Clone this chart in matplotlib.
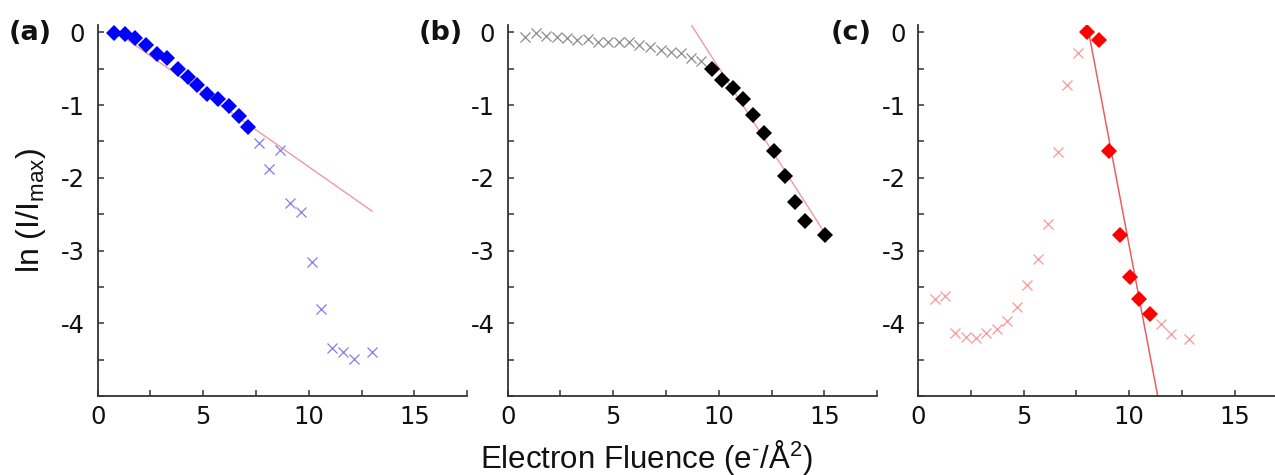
import matplotlib
matplotlib.use("Agg")
import matplotlib.pyplot as plt
from matplotlib.ticker import MultipleLocator

# ---------------- data ----------------
# Panel (a)
a_fit_x = [0.79, 1.29, 1.77, 2.27, 2.80, 3.27, 3.79, 4.27, 4.72, 5.20, 5.69, 6.21, 6.68, 7.14]
a_fit_y = [-0.01, -0.02, -0.08, -0.17, -0.30, -0.35, -0.50, -0.62, -0.72, -0.85, -0.92, -1.02, -1.15, -1.30]
a_rest_x = [7.65, 8.09, 8.64, 9.12, 9.64, 10.14, 10.58, 11.09, 11.64, 12.12, 12.99]
a_rest_y = [-1.52, -1.88, -1.62, -2.35, -2.47, -3.16, -3.80, -4.34, -4.40, -4.49, -4.40]
a_line_x = [0.8, 13.0]
a_line_y = [0.02, -2.46]

# Panel (b)
b_rest_x = [0.82, 1.34, 1.82, 2.32, 2.80, 3.30, 3.79, 4.30, 4.77, 5.26, 5.75, 6.24, 6.75, 7.25, 7.73, 8.20, 8.69, 9.16]
b_rest_y = [-0.07, -0.01, -0.05, -0.07, -0.08, -0.11, -0.09, -0.14, -0.13, -0.13, -0.14, -0.17, -0.20, -0.24, -0.27, -0.29, -0.35, -0.40]
b_fit_x = [9.67, 10.17, 10.65, 11.14, 11.61, 12.12, 12.62, 13.14, 13.62, 14.09, 15.04]
b_fit_y = [-0.51, -0.66, -0.77, -0.92, -1.14, -1.38, -1.63, -1.98, -2.33, -2.59, -2.78]
b_line_x = [8.72, 15.04]
b_line_y = [0.09, -2.77]

# Panel (c)
c_fit_x = [8.00, 8.55, 9.05, 9.57, 10.03, 10.49, 11.01]
c_fit_y = [0.0, -0.10, -1.63, -2.79, -3.37, -3.67, -3.87]
c_rest_x = [0.79, 1.30, 1.77, 2.25, 2.74, 3.22, 3.72, 4.20, 4.67, 5.15, 5.66, 6.15, 6.62, 7.08, 7.58, 11.49, 11.97, 12.84]
c_rest_y = [-3.66, -3.62, -4.14, -4.19, -4.20, -4.14, -4.08, -3.97, -3.77, -3.48, -3.11, -2.64, -1.64, -0.73, -0.29, -4.01, -4.15, -4.22]
c_line_x = [8.13, 11.45]
c_line_y = [-0.07, -5.15]

panel_labels = ["(a)", "(b)", "(c)"]
y_ticks = [0, -1, -2, -3, -4]
x_ticks = [0, 5, 10, 15]

# ---------------- figure ----------------
fig = plt.figure(figsize=(12.75, 4.75), dpi=100)
W, H = 1275.0, 475.0
ax_w = 369.5 / W
ax_b = 1 - 396.0 / H
ax_h = (396.0 - 25.0) / H
lefts = [97.7 / W, 507.7 / W, 918.0 / W]

panels = [
    dict(fx=a_fit_x, fy=a_fit_y, rx=a_rest_x, ry=a_rest_y, lx=a_line_x, ly=a_line_y,
         fcol="#0000ff", rcol="#7f7ff0", lcol="#f09a9a", lw=1.0),
    dict(fx=b_fit_x, fy=b_fit_y, rx=b_rest_x, ry=b_rest_y, lx=b_line_x, ly=b_line_y,
         fcol="#000000", rcol="#8c8c8c", lcol="#f09a9a", lw=1.0),
    dict(fx=c_fit_x, fy=c_fit_y, rx=c_rest_x, ry=c_rest_y, lx=c_line_x, ly=c_line_y,
         fcol="#ff0000", rcol="#f49a9a", lcol="#e86060", lw=1.1),
]

spine_col = "#333333"
axes = []
for i, p in enumerate(panels):
    ax = fig.add_axes([lefts[i], ax_b, ax_w, ax_h])
    axes.append(ax)
    ax.plot(p["lx"], p["ly"], color=p["lcol"], lw=p["lw"], zorder=1)
    ax.plot(p["rx"], p["ry"], ls="none", marker="x", ms=6.5, mew=0.9,
            color=p["rcol"], zorder=2)
    ax.plot(p["fx"], p["fy"], ls="none", marker="D", ms=7.8, mew=0,
            color=p["fcol"], zorder=3)
    ax.set_xlim(0, 17.5)
    ax.set_ylim(-5, 0.1)
    ax.set_xticks(x_ticks)
    ax.set_yticks(y_ticks)
    ax.set_yticklabels([str(v) for v in y_ticks])
    ax.xaxis.set_minor_locator(MultipleLocator(2.5))
    ax.yaxis.set_minor_locator(MultipleLocator(0.5))
    for s in ["top", "right"]:
        ax.spines[s].set_visible(False)
    for s in ["left", "bottom"]:
        ax.spines[s].set_color(spine_col)
        ax.spines[s].set_linewidth(1.3)
    ax.tick_params(which="both", direction="in", length=4, width=1.1,
                   color=spine_col, labelsize=17.5, labelcolor="#111111")
    ax.tick_params(axis="y", which="both", pad=9)
    ax.tick_params(axis="x", which="both", pad=6.5)
    ax.text(-0.182, 0.978, panel_labels[i], transform=ax.transAxes,
            fontsize=19.5, fontweight="bold", ha="center", va="center",
            color="#111111")

fig.text(31 / W, 1 - 210 / H, r"ln (I/I$_{\mathregular{max}}$)", family="Liberation Sans",
         fontsize=23, rotation=90, ha="center", va="center", color="#111111")
fig.text(646 / W, 1 - 468 / H, "Electron Fluence (e$^{\\mathregular{\u2010}}$/Å$^{\\mathregular{2}}$)",
         family="Liberation Sans", fontsize=22.5, ha="center", va="baseline", color="#111111")

fig.savefig("out.png", dpi=100)
